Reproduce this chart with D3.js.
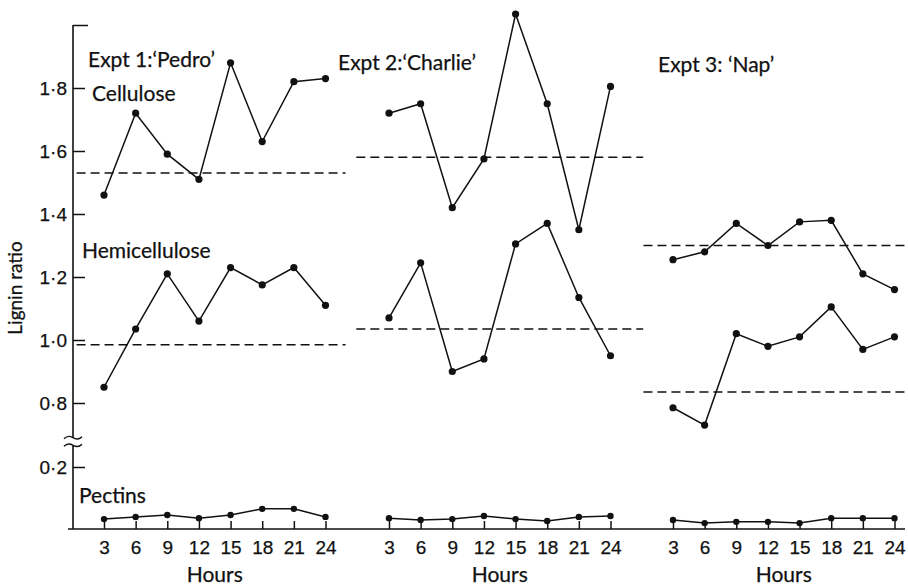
<!DOCTYPE html>
<html>
<head>
<meta charset="utf-8">
<script src="https://cdn.jsdelivr.net/npm/d3@7"></script>
<style>
  body { margin: 0; background: #fff; }
  svg { display: block; font-family: Lato, "Open Sans", sans-serif; }
  .axis text { font-size: 19px; fill: #111; stroke: #111; stroke-width: 0.25; }
  .axis line { stroke: #111; stroke-width: 1.5; }
  .label { font-size: 21px; fill: #111; stroke: #111; stroke-width: 0.25; }
</style>
</head>
<body>
<script>
// values
const hours = [3, 6, 9, 12, 15, 18, 21, 24];
const experiments = ["Expt 1:\u2018Pedro\u2019", "Expt 2:\u2018Charlie\u2019", "Expt 3: \u2018Nap\u2019"];
const cellulose = [
  [1.46, 1.72, 1.59, 1.51, 1.88, 1.63, 1.82, 1.83],
  [1.72, 1.75, 1.42, 1.575, 2.035, 1.75, 1.35, 1.805],
  [1.255, 1.28, 1.37, 1.30, 1.375, 1.38, 1.21, 1.16]
];
const hemicellulose = [
  [0.85, 1.035, 1.21, 1.06, 1.23, 1.175, 1.23, 1.11],
  [1.07, 1.245, 0.90, 0.94, 1.305, 1.37, 1.135, 0.95],
  [0.785, 0.73, 1.02, 0.98, 1.01, 1.105, 0.97, 1.01]
];
const pectins = [
  [0.032, 0.039, 0.045, 0.035, 0.045, 0.065, 0.065, 0.039],
  [0.035, 0.029, 0.032, 0.042, 0.032, 0.026, 0.039, 0.042],
  [0.029, 0.019, 0.023, 0.023, 0.019, 0.035, 0.035, 0.035]
];
const celluloseMean = [1.53, 1.58, 1.30];
const hemicelluloseMean = [0.985, 1.035, 0.835];
const upperTicks = [0.8, 1.0, 1.2, 1.4, 1.6, 1.8, 2.0];
const lowerTicks = [0.2];

// layout
const width = 908, height = 587;
const axisX = 73;
const baseY = 529;
const panelStarts = [104, 389, 673];
const panelWidth = 221.5;
const meanSpan = [[0.4, 25.9], [-0.1, 27.1], [0.2, 25.1]]; // in hours
const titlePos = [[88, 67], [338, 70], [658, 72]];

const yLow = d3.scaleLinear().domain([0, 0.2]).range([baseY, 467]);
const yHigh = d3.scaleLinear().domain([0.8, 2.0]).range([403, 25]);
const y = v => v < 0.5 ? yLow(v) : yHigh(v);

const fmt = d => d === 2 ? '' : d3.format('.1f')(d).replace('.', '\u00b7');

const svg = d3.select('body').append('svg')
  .attr('width', width)
  .attr('height', height)
  .attr('viewBox', [0, 0, width, height]);

// y axis (broken)
const gHigh = svg.append('g').attr('class', 'axis')
  .attr('transform', `translate(${axisX},0)`)
  .call(d3.axisLeft(yHigh).tickValues(upperTicks).tickFormat(fmt)
    .tickSizeInner(-12).tickSizeOuter(0).tickPadding(6));
gHigh.select('.domain').remove();
gHigh.selectAll('.tick').filter(d => d === 2).select('line').attr('x2', 15);

const gLow = svg.append('g').attr('class', 'axis')
  .attr('transform', `translate(${axisX},0)`)
  .call(d3.axisLeft(yLow).tickValues(lowerTicks).tickFormat(fmt)
    .tickSizeInner(-12).tickSizeOuter(0).tickPadding(6));
gLow.select('.domain').remove();

const breakTop = yHigh(0.69), breakBot = yLow(0.27);
svg.append('line')
  .attr('x1', axisX).attr('x2', axisX)
  .attr('y1', yHigh(2.0)).attr('y2', breakTop)
  .attr('stroke', '#111').attr('stroke-width', 1.6);
svg.append('line')
  .attr('x1', axisX).attr('x2', axisX)
  .attr('y1', breakBot).attr('y2', baseY)
  .attr('stroke', '#111').attr('stroke-width', 1.6);
[breakTop, breakBot].forEach(by => {
  svg.append('path')
    .attr('d', `M${axisX - 9},${by + 1} q4,-4 9,-1 t9,-1`)
    .attr('fill', 'none').attr('stroke', '#111').attr('stroke-width', 1.4);
});

// x baseline
svg.append('line')
  .attr('x1', axisX - 5).attr('x2', width - 3)
  .attr('y1', baseY).attr('y2', baseY)
  .attr('stroke', '#111').attr('stroke-width', 1.6);

svg.append('text').attr('class', 'label')
  .attr('transform', `translate(22,288) rotate(-90)`)
  .attr('text-anchor', 'middle')
  .style('font-size', '19px')
  .text('Lignin ratio');

const line = d3.line();

experiments.forEach((name, i) => {
  const x = d3.scaleLinear().domain([3, 24])
    .range([panelStarts[i], panelStarts[i] + panelWidth]);

  const gx = svg.append('g').attr('class', 'axis')
    .attr('transform', `translate(0,${baseY})`)
    .call(d3.axisBottom(x).tickValues(hours)
      .tickSizeInner(-8).tickSizeOuter(0).tickPadding(12));
  gx.select('.domain').remove();

  svg.append('text').attr('class', 'label')
    .attr('x', (x(3) + x(24)) / 2).attr('y', 582)
    .attr('text-anchor', 'middle')
    .text('Hours');

  svg.append('text').attr('class', 'label')
    .attr('x', titlePos[i][0]).attr('y', titlePos[i][1])
    .text(name);

  // mean lines
  [celluloseMean[i], hemicelluloseMean[i]].forEach(m => {
    svg.append('line')
      .attr('x1', x(meanSpan[i][0])).attr('x2', x(meanSpan[i][1]))
      .attr('y1', y(m)).attr('y2', y(m))
      .attr('stroke', '#111').attr('stroke-width', 1.5)
      .attr('stroke-dasharray', '9,5');
  });

  [cellulose[i], hemicellulose[i], pectins[i]].forEach((series, k) => {
    const pts = series.map((v, j) => [x(hours[j]), y(v)]);
    svg.append('path')
      .attr('d', line(pts))
      .attr('fill', 'none').attr('stroke', '#111').attr('stroke-width', 1.5);
    svg.append('g').selectAll('circle')
      .data(pts)
      .join('circle')
      .attr('cx', d => d[0]).attr('cy', d => d[1])
      .attr('r', k === 2 ? 3.2 : 3.6)
      .attr('fill', '#111');
  });
});

// series names
svg.append('text').attr('class', 'label').attr('x', 92).attr('y', 101).text('Cellulose');
svg.append('text').attr('class', 'label').attr('x', 82).attr('y', 258).text('Hemicellulose');
svg.append('text').attr('class', 'label').attr('x', 79).attr('y', 503).text('Pectins');
</script>
</body>
</html>
